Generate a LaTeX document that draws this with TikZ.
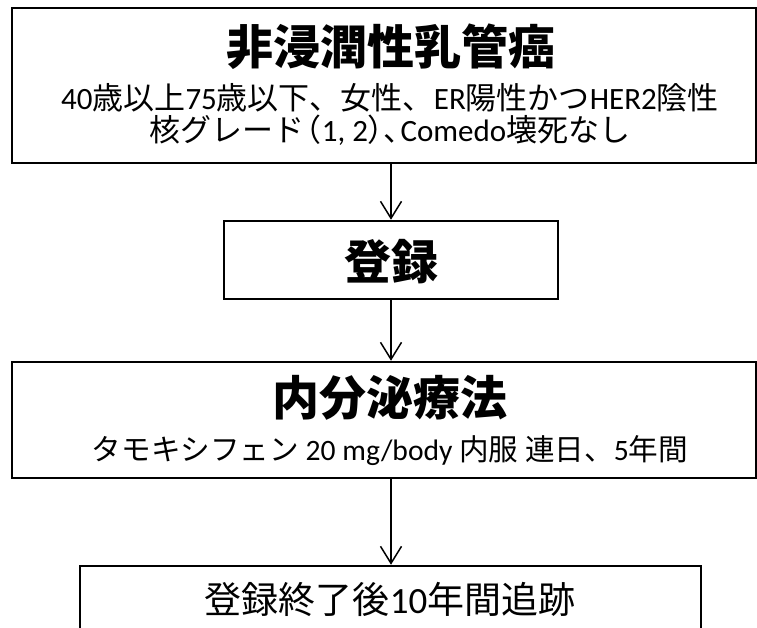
\documentclass[tikz,border=0pt]{standalone}
\usepackage{fontspec}
\setmainfont{Carlito}
\newfontfamily\jp{Noto Sans CJK JP}
\usetikzlibrary{arrows.meta}
\newcommand{\bigboldfont}{\jp\bfseries\fontsize{47}{56}\selectfont}
\newcommand{\midtextfont}{\fontsize{31}{32}\selectfont}
\newcommand{\smtextfont}{\fontsize{29.6}{35}\selectfont}
\newcommand{\lasttextfont}{\fontsize{37}{44}\selectfont}
\newcommand{\myctrline}[1]{\hbox to 700pt{\hss#1\hss}}
\begin{document}
\begin{tikzpicture}[x=1pt,y=-1pt,
  box/.style={draw=black, line width=2.5pt, rectangle, inner sep=0pt},
  lbl/.style={anchor=base, inner sep=0pt},
  arr/.style={line width=1.5pt, -{Straight Barb[length=17pt,width=21pt,line width=1.5pt]}}]
\useasboundingbox (0,0) rectangle (757,628);
\clip (0,0) rectangle (757,628);
\node[box, minimum width=744pt, minimum height=155pt] (b1) at (384,85.5) {};
\node[box, minimum width=334pt, minimum height=78pt] (b2) at (391,260) {};
\node[box, minimum width=744pt, minimum height=116pt] (b3) at (384,420) {};
\node[box, minimum width=621pt, minimum height=100pt] (b4) at (390.5,616) {};
\node[lbl, font=\bigboldfont] (t1) at (391,65) {非浸潤性乳管癌};
\node[lbl, font=\midtextfont] (t2) at (390,142) {\vbox{%
  \myctrline{40{\jp 歳以上}75{\jp 歳以下、女性、}ER{\jp 陽性かつ}HER2{\jp 陰性}}%
  \myctrline{{\jp 核グレード\kern-0.45em（}1, 2{\jp ）\kern-0.5em、\kern-0.45em}Comedo{\jp 壊死なし}}}};
\node[lbl, font=\bigboldfont] (t4) at (391,279) {登録};
\node[lbl, font=\bigboldfont] (t5) at (390,415) {内分泌療法};
\node[lbl, font=\smtextfont] (t6) at (390,460) {{\jp タモキシフェン} 20 mg/body {\jp 内服} {\jp 連日、}5{\jp 年間}};
\node[lbl, font=\lasttextfont] (t7) at (390,613) {{\jp 登録終了後}10{\jp 年間追跡}};
\draw[arr] (b1.south -| b2.north) -- (b2.north);
\draw[arr] (b2.south) -- (b3.north -| b2.south);
\draw[arr] (b3.south -| b2.south) -- (b4.north -| b2.south);
\end{tikzpicture}
\end{document}
